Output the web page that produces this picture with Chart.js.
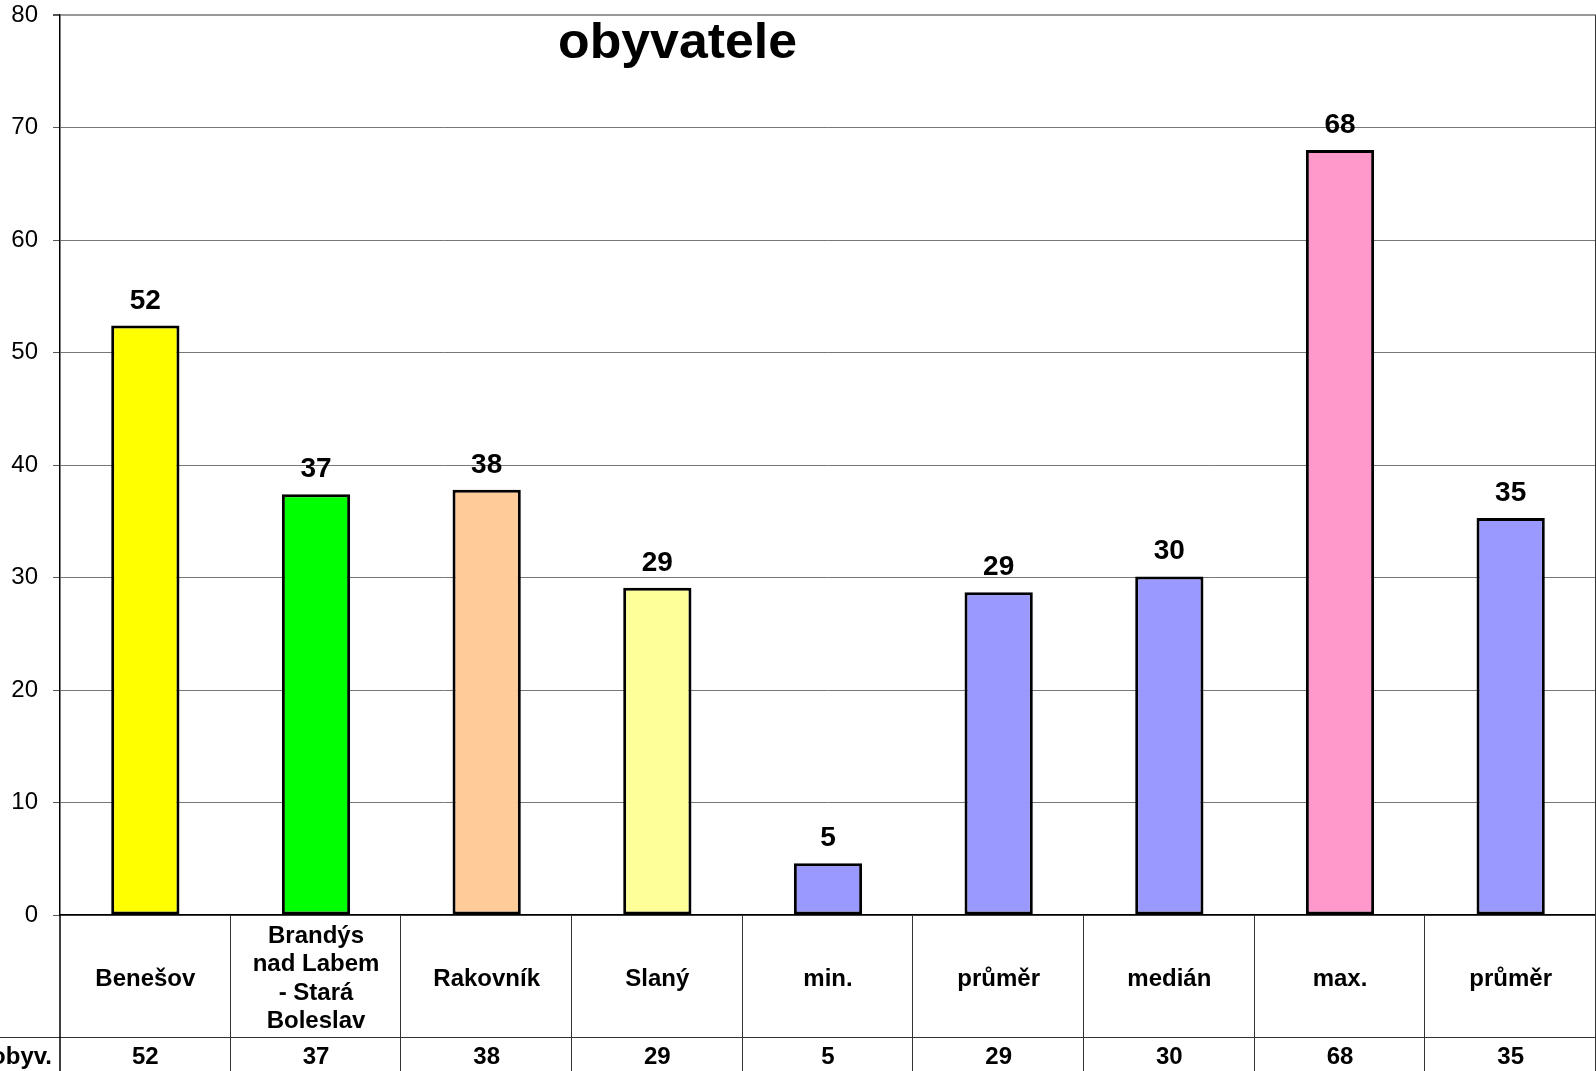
<!DOCTYPE html>
<html>
<head>
<meta charset="utf-8">
<script src="https://cdn.jsdelivr.net/npm/chart.js@4"></script>
<style>
  html, body { margin: 0; padding: 0; background: #fff; }
  #wrap { width: 1596px; height: 1071px; }
</style>
</head>
<body>
<div id="wrap"><canvas id="obyvChart" width="1596" height="1071"></canvas></div>
<script>
// chart data
const categories = [
  ['Benešov'],
  ['Brandýs', 'nad Labem', '- Stará', 'Boleslav'],
  ['Rakovník'],
  ['Slaný'],
  ['min.'],
  ['průměr'],
  ['medián'],
  ['max.'],
  ['průměr']
];
const values = [52.4, 37.4, 37.8, 29.1, 4.6, 28.7, 30.1, 68.0, 35.3];
const barColors = ['#FFFF00', '#00FF00', '#FFCC99', '#FFFF99', '#9999FF', '#9999FF', '#9999FF', '#FF99CC', '#9999FF'];
const seriesName = 'obyv.';
const chartTitle = 'obyvatele';
const yTicks = [0, 10, 20, 30, 40, 50, 60, 70, 80];

const FONT = "'Liberation Sans', Arial, sans-serif";

// title drawn over the plot area
const titlePlugin = {
  id: 'titleOverlay',
  afterDraw(chart) {
    const ctx = chart.ctx;
    ctx.save();
    ctx.font = 'bold 50px ' + FONT;
    ctx.fillStyle = '#000';
    ctx.textAlign = 'center';
    ctx.textBaseline = 'alphabetic';
    // squeeze to the width the original (narrow) title takes
    const w = ctx.measureText(chartTitle).width;
    const sx = 239 / w;
    ctx.translate(677.5, 58);
    ctx.scale(sx, 1);
    ctx.fillText(chartTitle, 0, 0);
    ctx.restore();
  }
};

// value labels above bars
const valueLabels = {
  id: 'valueLabels',
  afterDatasetsDraw(chart) {
    const ctx = chart.ctx;
    const meta = chart.getDatasetMeta(0);
    ctx.save();
    ctx.font = 'bold 28px ' + FONT;
    ctx.fillStyle = '#000';
    ctx.textAlign = 'center';
    ctx.textBaseline = 'alphabetic';
    meta.data.forEach((bar, i) => {
      ctx.fillText(String(Math.round(values[i])), bar.x, bar.y - 17);
    });
    ctx.restore();
  }
};

// data table below the x axis
const dataTable = {
  id: 'dataTable',
  afterDraw(chart) {
    const ctx = chart.ctx;
    const area = chart.chartArea;
    const x = chart.scales.x;
    const n = categories.length;
    const colW = (area.right - area.left) / n;
    const rowY = area.bottom + 122;
    const bottom = chart.height;
    ctx.save();
    ctx.strokeStyle = '#333';
    ctx.lineWidth = 1;
    // horizontal divider
    ctx.beginPath();
    ctx.moveTo(0, rowY + 0.5);
    ctx.lineTo(area.right, rowY + 0.5);
    ctx.stroke();
    // column dividers
    for (let i = 1; i <= n; i++) {
      const cx = Math.round(x.getPixelForValue(i) - colW / 2) - 0.5;
      ctx.beginPath();
      ctx.moveTo(cx, i === n ? area.top : area.bottom);
      ctx.lineTo(cx, bottom);
      ctx.stroke();
    }
    // left axis continues down
    ctx.strokeStyle = '#000';
    ctx.lineWidth = 1.5;
    ctx.beginPath();
    ctx.moveTo(area.left, area.bottom);
    ctx.lineTo(area.left, bottom);
    ctx.stroke();

    ctx.fillStyle = '#000';
    ctx.font = 'bold 24px ' + FONT;
    ctx.textAlign = 'center';
    ctx.textBaseline = 'alphabetic';
    categories.forEach((lines, i) => {
      const cx = x.getPixelForValue(i);
      lines.forEach((line, k) => {
        const by = area.bottom + 70.5 + (k - (lines.length - 1) / 2) * 28.3;
        ctx.fillText(line, cx, by);
      });
      ctx.fillText(String(Math.round(values[i])), cx, rowY + 27);
    });
    ctx.textAlign = 'right';
    ctx.fillText(seriesName, area.left - 8, rowY + 27);
    ctx.restore();
  }
};

const ctx = document.getElementById('obyvChart').getContext('2d');

new Chart(ctx, {
  type: 'bar',
  data: {
    labels: categories,
    datasets: [{
      label: seriesName,
      data: values,
      backgroundColor: barColors,
      borderColor: '#000',
      borderWidth: 3,
      borderSkipped: false,
      categoryPercentage: 1,
      barPercentage: 0.4
    }]
  },
  options: {
    responsive: false,
    devicePixelRatio: 1,
    animation: false,
    layout: { padding: { top: 15, left: 0, right: 0, bottom: 0 } },
    plugins: {
      legend: { display: false },
      title: { display: false },
      tooltip: { enabled: false }
    },
    scales: {
      x: {
        ticks: { display: false },
        grid: { display: false, drawTicks: false },
        border: { display: true, color: '#000', width: 1.5 },
        afterFit(scale) { scale.height = 156; scale.paddingLeft = 0; scale.paddingRight = 0; }
      },
      y: {
        min: 0,
        max: 80,
        afterBuildTicks(scale) { scale.ticks = yTicks.map(v => ({ value: v })); },
        ticks: {
          color: '#000',
          padding: 15,
          font: { family: FONT, size: 24 }
        },
        grid: {
          color: ctx => ctx.tick && ctx.tick.value === 80 ? '#999' : '#777',
          lineWidth: ctx => ctx.tick && ctx.tick.value === 80 ? 2 : 1,
          tickLength: 7,
          tickColor: '#555'
        },
        border: { display: true, color: '#000', width: 1.5 },
        afterFit(scale) { scale.width = 60; scale.paddingTop = 0; scale.paddingBottom = 0; }
      }
    }
  },
  plugins: [titlePlugin, valueLabels, dataTable]
});
</script>
</body>
</html>
